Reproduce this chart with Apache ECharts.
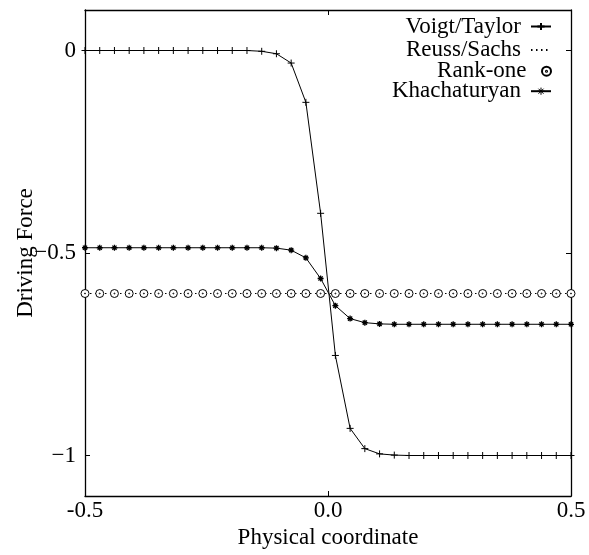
<!DOCTYPE html>
<html>
<head>
<meta charset="utf-8">
<script src="https://cdn.jsdelivr.net/npm/echarts@6/dist/echarts.min.js"></script>
<style>html,body{margin:0;padding:0;background:#fff;}#c{width:589px;height:555px;}</style>
</head>
<body>
<div id="c"></div>
<script>
// ---- data ----
var xCoord = [-0.5, -0.4697, -0.4394, -0.4091, -0.3788, -0.3485, -0.3182, -0.2879, -0.2576, -0.2273,
  -0.1970, -0.1667, -0.1364, -0.1061, -0.0758, -0.0455, -0.0152, 0.0152, 0.0455, 0.0758,
  0.1061, 0.1364, 0.1667, 0.1970, 0.2273, 0.2576, 0.2879, 0.3182, 0.3485, 0.3788,
  0.4091, 0.4394, 0.4697, 0.5];
var voigt = [0, 0, 0, 0, 0, 0, 0, 0, 0, 0,
  0, 0, -0.002, -0.008, -0.031, -0.128, -0.402, -0.753, -0.933, -0.983,
  -0.996, -0.999, -1, -1, -1, -1, -1, -1, -1, -1,
  -1, -1, -1, -1];
var reuss = [-0.6, -0.6, -0.6, -0.6, -0.6, -0.6, -0.6, -0.6, -0.6, -0.6,
  -0.6, -0.6, -0.6, -0.6, -0.6, -0.6, -0.6, -0.6, -0.6, -0.6,
  -0.6, -0.6, -0.6, -0.6, -0.6, -0.6, -0.6, -0.6, -0.6, -0.6,
  -0.6, -0.6, -0.6, -0.6];
var rankOne = [-0.6, -0.6, -0.6, -0.6, -0.6, -0.6, -0.6, -0.6, -0.6, -0.6,
  -0.6, -0.6, -0.6, -0.6, -0.6, -0.6, -0.6, -0.6, -0.6, -0.6,
  -0.6, -0.6, -0.6, -0.6, -0.6, -0.6, -0.6, -0.6, -0.6, -0.6,
  -0.6, -0.6, -0.6, -0.6];
var khach = [-0.487, -0.487, -0.487, -0.487, -0.487, -0.487, -0.487, -0.487, -0.487, -0.487,
  -0.487, -0.487, -0.487, -0.488, -0.493, -0.512, -0.563, -0.630, -0.662, -0.672,
  -0.675, -0.676, -0.676, -0.676, -0.676, -0.676, -0.676, -0.676, -0.676, -0.676,
  -0.676, -0.676, -0.676, -0.676];
var seriesNames = ['Voigt/Taylor', 'Reuss/Sachs', 'Rank-one', 'Khachaturyan'];
var xTickValues = [-0.5, 0, 0.5];
var xTickLabels = ['-0.5', '0.0', '0.5'];
var yTickValues = [-1, -0.5, 0];
var yTickLabels = ['\u22121', '\u22120.5', '0'];

function pairs(ys) { return xCoord.map(function (x, i) { return [x, ys[i]]; }); }

var FONT = 'Liberation Serif';
var plusSym = 'path://M0,5L10,5M5,0L5,10';
var starSym = 'path://M0,5L10,5M5,0L5,10M1.5,1.5L8.5,8.5M1.5,8.5L8.5,1.5';
var circSym = 'path://M0,5a5,5 0 1,0 10,0a5,5 0 1,0 -10,0Z M4.4,5a0.6,0.6 0 1,0 1.2,0a0.6,0.6 0 1,0 -1.2,0Z';

function axisCommon(pos, showLabel, ticks, labels, margin) {
  return {
    type: 'value', position: pos,
    axisLine: { show: true, onZero: false, lineStyle: { color: '#000', width: 1.3 } },
    axisTick: { show: true, inside: true, length: 5, customValues: ticks, lineStyle: { color: '#000', width: 1 } },
    axisLabel: {
      show: showLabel, customValues: ticks, color: '#000', fontFamily: FONT, fontSize: 23, margin: margin,
      formatter: function (v) { var i = ticks.indexOf(v); return i >= 0 ? labels[i] : ''; }
    },
    splitLine: { show: false }
  };
}

var xb = axisCommon('bottom', true, xTickValues, xTickLabels, 3);
xb.min = -0.5; xb.max = 0.5;
xb.name = 'Physical coordinate'; xb.nameLocation = 'middle'; xb.nameGap = 30; xb.nameMoveOverlap = false;
xb.nameTextStyle = { color: '#000', fontFamily: FONT, fontSize: 23 };
var xt = axisCommon('top', false, xTickValues, xTickLabels, 3);
xt.min = -0.5; xt.max = 0.5;
var yl = axisCommon('left', true, yTickValues, yTickLabels, 9);
yl.min = -1.1; yl.max = 0.1;
yl.name = 'Driving Force'; yl.nameLocation = 'middle'; yl.nameGap = 48; yl.nameRotate = 90; yl.nameMoveOverlap = false;
yl.nameTextStyle = { color: '#000', fontFamily: FONT, fontSize: 23 };
var yr = axisCommon('right', false, yTickValues, yTickLabels, 9);
yr.min = -1.1; yr.max = 0.1;

var legendCenters = [26, 49.5, 70.7, 90.7];
function mkLegend(item, idx) {
  return {
    data: [item], right: 37, top: legendCenters[idx] - 11, padding: 0,
    itemWidth: 20, itemHeight: 9, align: 'right', selectedMode: false,
    textStyle: { color: '#000', fontFamily: FONT, fontSize: 23, lineHeight: 22, padding: [0, 5, 0, 0] }
  };
}

var option = {
  animation: false,
  backgroundColor: '#fff',
  grid: { left: 85, right: 18, top: 10, bottom: 59, containLabel: false, outerBoundsMode: 'none' },
  xAxis: [xb, xt],
  yAxis: [yl, yr],
  legend: [
    mkLegend({ name: seriesNames[0] }, 0),
    mkLegend({ name: seriesNames[1], itemStyle: { opacity: 0 } }, 1),
    mkLegend({ name: seriesNames[2] }, 2),
    mkLegend({ name: seriesNames[3], itemStyle: { borderWidth: 1 } }, 3)
  ],
  series: [
    {
      name: seriesNames[1], type: 'line', data: pairs(reuss), symbol: 'none',
      lineStyle: { color: '#000', width: 1, type: [1.5, 3.5] }, itemStyle: { color: '#000' }, z: 2
    },
    {
      name: seriesNames[2], type: 'scatter', data: pairs(rankOne), symbol: circSym, symbolSize: 8,
      symbolKeepAspect: true,
      itemStyle: { color: '#fff', borderColor: '#000', borderWidth: 1, opacity: 1 }, z: 3
    },
    {
      name: seriesNames[3], type: 'line', data: pairs(khach), symbol: starSym, symbolSize: 6,
      showAllSymbol: true, symbolKeepAspect: true,
      lineStyle: { color: '#000', width: 1 }, itemStyle: { color: '#000', borderColor: '#000', borderWidth: 1.3 }, z: 4
    },
    {
      name: seriesNames[0], type: 'line', data: pairs(voigt), symbol: plusSym, symbolSize: 7,
      showAllSymbol: true, symbolKeepAspect: true,
      lineStyle: { color: '#000', width: 1 }, itemStyle: { color: '#000', borderColor: '#000', borderWidth: 1 }, z: 5
    }
  ]
};
var chart = echarts.init(document.getElementById('c'), null, { renderer: 'canvas' });
chart.setOption(option);
</script>
</body>
</html>
